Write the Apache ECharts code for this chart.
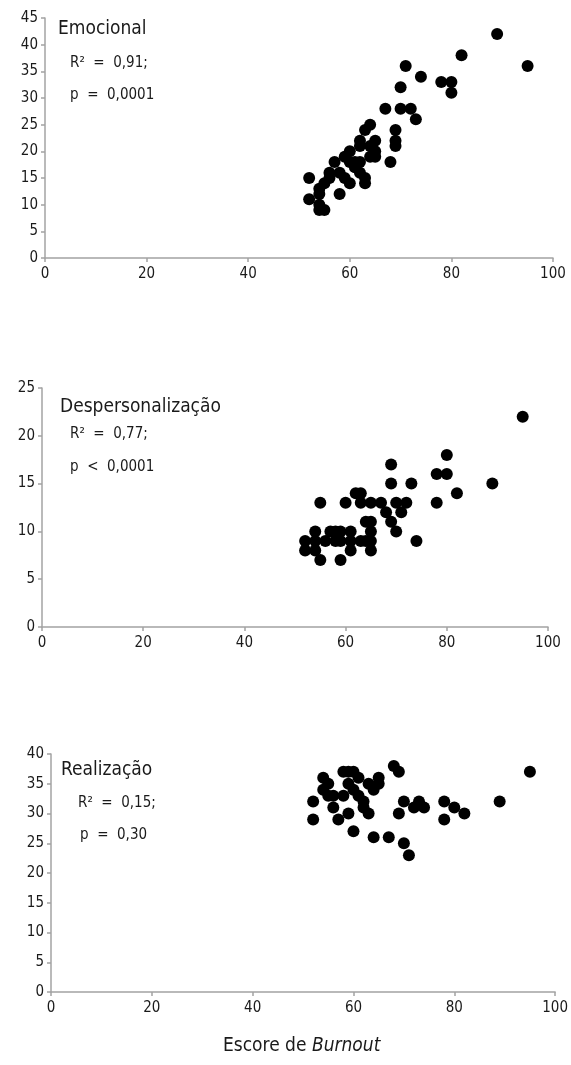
<!DOCTYPE html>
<html>
<head>
<meta charset="utf-8">
<script src="https://cdn.jsdelivr.net/npm/echarts@6/dist/echarts.min.js"></script>
<style>html,body{margin:0;padding:0;background:#fff}#c{width:571px;height:1065px}</style>
</head>
<body>
<div id="c"></div>
<script>
// Panel 1: Emocional (x = Escore de Burnout, y = score)
var emocional = [[89,42],[82,38],[95,36],[71,36],[74,34],[78,33],[80,33],[80,31],[70,32],[67,28],[70,28],[72,28],[73,26],[69,24],[69,22],[69,21],[68,18],[64,25],[63,24],[62,22],[62,21],[65,22],[65,20],[65,19],[64,19],[60,20],[59,19],[57,18],[61,18],[61,17],[62,16],[63,15],[63,14],[58,16],[59,15],[60,14],[56,16],[55,14],[54,13],[54,12],[58,12],[52,15],[52,11],[54,10],[54,9],[55,9],[60,18],[62,18],[56,15],[64,21]];
// Panel 2: Despersonalização
var despersonalizacao = [[95,22],[80,18],[78,16],[80,16],[89,15],[82,14],[78,13],[69,17],[69,15],[73,15],[55,13],[60,13],[62,14],[63,14],[63,13],[65,13],[67,13],[70,13],[72,13],[71,12],[68,12],[69,11],[70,10],[74,9],[65,11],[64,11],[65,10],[65,9],[65,8],[61,8],[59,7],[55,7],[52,9],[52,8],[54,10],[54,9],[54,8],[57,10],[58,10],[59,10],[61,10],[56,9],[58,9],[59,9],[61,9],[63,9],[64,9]];
// Panel 3: Realização
var realizacao = [[95,37],[89,32],[68,38],[69,37],[78,32],[80,31],[82,30],[78,29],[70,32],[69,30],[72,31],[73,32],[74,31],[70,25],[71,23],[67,26],[64,26],[60,27],[52,29],[52,32],[57,29],[56,31],[59,30],[63,30],[62,31],[62,32],[61,33],[58,33],[56,33],[54,36],[55,35],[54,34],[55,33],[58,37],[59,37],[60,37],[61,36],[59,35],[60,34],[63,35],[65,36],[65,35],[64,34]];

var xTicks = [0,20,40,60,80,100];
var yMax = [45,25,40];
var titles = ['Emocional','Despersonalização','Realização'];
var r2Text = ['R² = 0,91;','R² = 0,77;','R² = 0,15;'];
var pText = ['p = 0,0001','p < 0,0001','p = 0,30'];
var xTitleA = 'Escore de ', xTitleB = 'Burnout';

var FONT = "'Liberation Sans Narrow','DejaVu Sans Condensed','Liberation Sans',sans-serif";
var axisCol = '#a3a3a3', txtCol = '#1a1a1a';

var grids = [
  {left:45, top:18, width:508, height:240},
  {left:42, top:388, width:506, height:239},
  {left:51, top:754, width:506, height:238}
];
var textPos = [
  {t:[58,32], r:[70,65], p:[70,97]},
  {t:[60,410], r:[70,436], p:[70,469]},
  {t:[61,773], r:[78,805], p:[80,837]}
];

var xAxes = [], yAxes = [], series = [], graphic = [];
var datas = [emocional, despersonalizacao, realizacao];
for (var i=0;i<3;i++){
  xAxes.push({type:'value', gridIndex:i, min:xTicks[0], max:xTicks[xTicks.length-1], interval:20,
    axisLine:{show:true, lineStyle:{color:axisCol, width:1.5}},
    axisTick:{show:true, length:4, lineStyle:{color:axisCol, width:1.5}},
    axisLabel:{color:txtCol, fontFamily:FONT, fontSize:15, margin:9},
    splitLine:{show:false}});
  yAxes.push({type:'value', gridIndex:i, min:0, max:yMax[i], interval:5,
    axisLine:{show:true, lineStyle:{color:axisCol, width:1.5}},
    axisTick:{show:true, length:4, lineStyle:{color:axisCol, width:1.5}},
    axisLabel:{color:txtCol, fontFamily:FONT, fontSize:15, margin:7},
    splitLine:{show:false}});
  series.push({type:'scatter', xAxisIndex:i, yAxisIndex:i, data:datas[i], symbolSize:12,
    itemStyle:{color:'#000', opacity:1}, silent:true});
  var tp = textPos[i];
  graphic.push({type:'text', left:tp.t[0], top:tp.t[1]-12, style:{text:titles[i], fill:txtCol, font:'19px '+FONT}});
  graphic.push({type:'text', left:tp.r[0], top:tp.r[1]-9, style:{text:r2Text[i].replace(' = ','  =  '), fill:txtCol, font:'15px '+FONT}});
  graphic.push({type:'text', left:tp.p[0], top:tp.p[1]-9, style:{text:pText[i].replace(' = ','  =  ').replace(' < ','  <  '), fill:txtCol, font:'15px '+FONT}});
}
graphic.push({type:'text', left:223, top:1037, style:{
  text:'{a|'+xTitleA+'}{b|'+xTitleB+'}',
  rich:{a:{fontFamily:FONT, fontSize:19, fill:txtCol, color:txtCol}, b:{fontFamily:FONT, fontSize:19, fontStyle:'italic', fill:txtCol, color:txtCol}}
}});

var chart = echarts.init(document.getElementById('c'), null, {renderer:'canvas'});
chart.setOption({
  animation:false,
  backgroundColor:'#fff',
  grid:grids, xAxis:xAxes, yAxis:yAxes, series:series, graphic:graphic
});
</script>
</body>
</html>
